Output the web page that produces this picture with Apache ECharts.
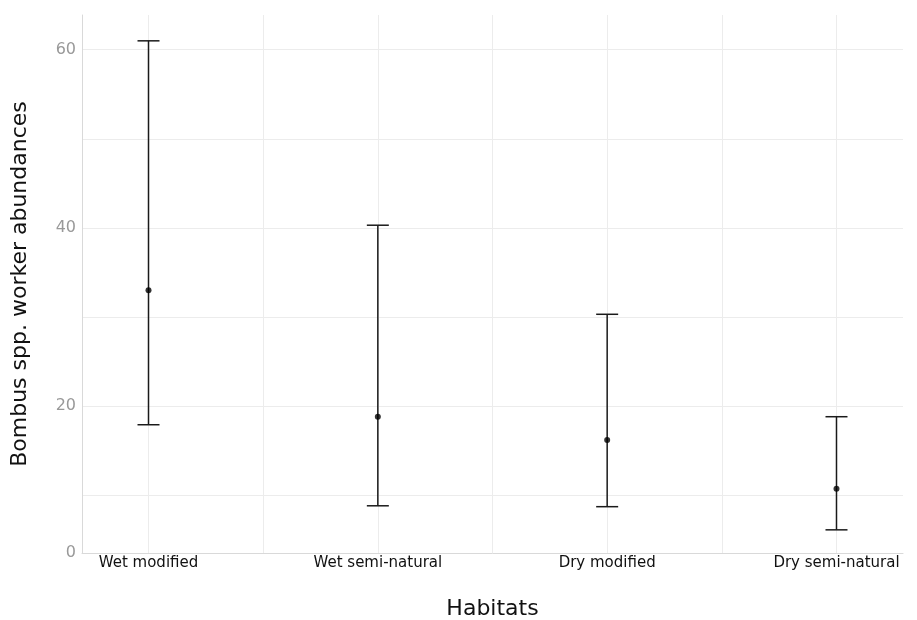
<!DOCTYPE html>
<html>
<head>
<meta charset="utf-8">
<script src="https://cdn.jsdelivr.net/npm/echarts@6/dist/echarts.min.js"></script>
<style>
  html, body { margin: 0; padding: 0; background: #fff; }
  #main { width: 917px; height: 620px; }
</style>
</head>
<body>
<div id="main"></div>
<script>
// habitats along the x axis (placed at 1..4)
var habitats = ["Wet modified", "Wet semi-natural", "Dry modified", "Dry semi-natural"];
// mean abundance and interval ends
var means = [33.0, 18.8, 16.2, 10.7];
var lower = [17.9, 8.8, 8.7, 6.1];
var upper = [61.0, 40.3, 30.3, 18.8];
var yTickLabels = [20, 40, 60];

var Y_MIN = 3.5, Y_MAX = 63.9;

var chart = echarts.init(document.getElementById("main"));

var barData = habitats.map(function (h, i) {
  return [i + 1, lower[i], upper[i]];
});
var pointData = habitats.map(function (h, i) {
  return [i + 1, means[i]];
});

function renderErrorBar(params, api) {
  var x = api.value(0);
  var lo = api.coord([x, api.value(1)]);
  var hi = api.coord([x, api.value(2)]);
  var half = 11;
  var style = { stroke: "#1a1a1a", lineWidth: 1.5 };
  return {
    type: "group",
    children: [
      { type: "line", shape: { x1: lo[0], y1: lo[1], x2: hi[0], y2: hi[1] }, style: style },
      { type: "line", shape: { x1: hi[0] - half, y1: hi[1], x2: hi[0] + half, y2: hi[1] }, style: style },
      { type: "line", shape: { x1: lo[0] - half, y1: lo[1], x2: lo[0] + half, y2: lo[1] }, style: style }
    ]
  };
}

var option = {
  backgroundColor: "#fff",
  animation: false,
  grid: { left: 82, right: 14, top: 15, bottom: 67, containLabel: false, outerBoundsMode: "none" },
  xAxis: {
    type: "value",
    min: 0.71,
    max: 4.29,
    splitNumber: 7,
    name: "Habitats",
    nameLocation: "middle",
    nameGap: 45,
    nameTextStyle: { color: "#111", fontSize: 22, fontFamily: "DejaVu Sans" },
    axisLine: { show: true, lineStyle: { color: "#d9d9d9", width: 1 } },
    axisTick: { show: false },
    axisLabel: {
      color: "#111",
      fontSize: 15,
      fontFamily: "DejaVu Sans",
      margin: 3,
      showMinLabel: false,
      showMaxLabel: false,
      formatter: function (v) {
        var k = Math.round(v);
        if (Math.abs(v - k) < 1e-6 && k >= 1 && k <= habitats.length) return habitats[k - 1];
        return "";
      }
    },
    splitLine: { show: true, showMinLine: false, showMaxLine: false, lineStyle: { color: "#ececec", width: 1 } }
  },
  yAxis: {
    type: "value",
    min: Y_MIN,
    max: Y_MAX,
    splitNumber: 6,
    name: "Bombus spp. worker abundances",
    nameLocation: "middle",
    nameGap: 51,
    nameTextStyle: { color: "#111", fontSize: 22, fontFamily: "DejaVu Sans" },
    axisLine: { show: true, lineStyle: { color: "#d9d9d9", width: 1 } },
    axisTick: { show: false },
    axisLabel: {
      color: "#999",
      fontSize: 16,
      fontFamily: "DejaVu Sans",
      margin: 6,
      showMinLabel: true,
      showMaxLabel: false,
      formatter: function (v) {
        if (Math.abs(v - Y_MIN) < 1e-6) return "0";
        if (yTickLabels.indexOf(Math.round(v)) >= 0 && Math.abs(v - Math.round(v)) < 1e-6) return String(Math.round(v));
        return "";
      }
    },
    splitLine: { show: true, showMinLine: false, showMaxLine: false, lineStyle: { color: "#ececec", width: 1 } }
  },
  series: [
    {
      type: "custom",
      name: "interval",
      renderItem: renderErrorBar,
      encode: { x: 0, y: [1, 2] },
      data: barData,
      z: 2
    },
    {
      type: "scatter",
      name: "mean",
      symbol: "circle",
      symbolSize: 6,
      itemStyle: { color: "#000" },
      data: pointData,
      z: 3
    }
  ]
};

chart.setOption(option);
</script>
</body>
</html>
